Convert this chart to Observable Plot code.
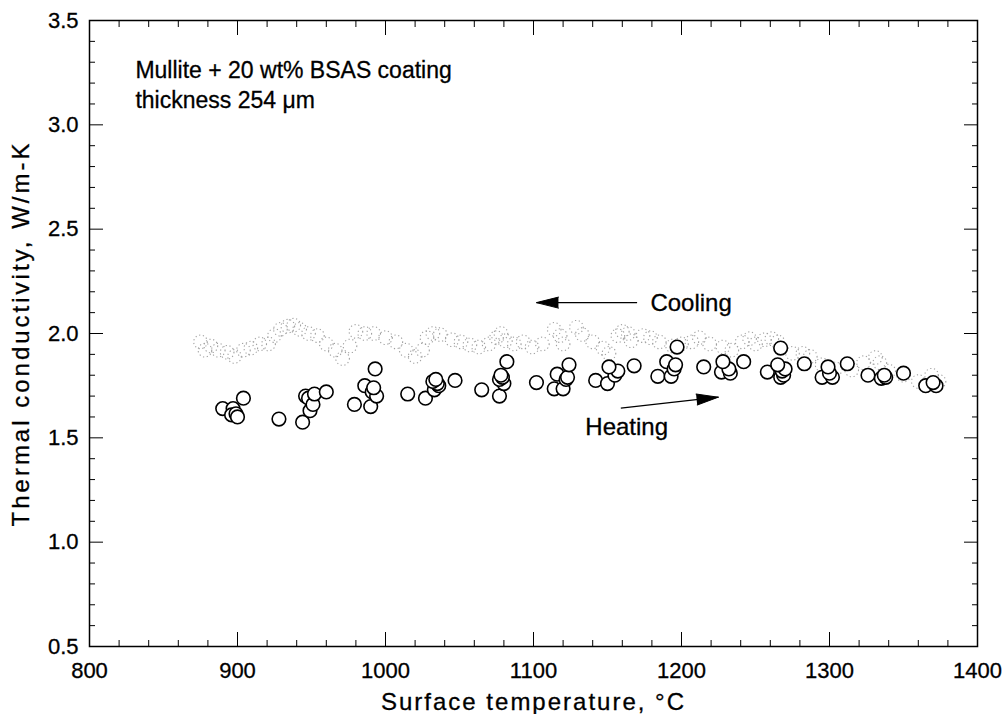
<!DOCTYPE html>
<html><head><meta charset="utf-8">
<script src="https://cdn.jsdelivr.net/npm/d3@7"></script>
<script src="https://cdn.jsdelivr.net/npm/@observablehq/plot@0.6"></script>
<style>
body{margin:0;background:#fff;}
#chart svg{display:block;}
#chart text{stroke:#000;stroke-width:0.3px;}
#chart g[aria-label="x-axis label"] text{letter-spacing:2px;}
#chart g[aria-label="y-axis label"] text{letter-spacing:3px;}
</style>
</head><body><div id="chart"></div>
<script>
// Heating run (open black circles)
const heatingT = [890,897,896,899,900,904,928,944,946,948,949,951,952,960,979,986,990,991,994,992,993,1015,1027,1033,1036,1035,1032,1034,1047,1065,1077,1080,1077,1079,1078,1082,1102,1114,1120,1116,1122,1123,1124,1142,1150,1155,1157,1151,1168,1184,1193,1190,1195,1196,1197,1215,1227,1233,1232,1228,1242,1258,1267,1269,1268,1270,1265,1267,1283,1295,1302,1300,1299,1312,1326,1335,1338,1337,1350,1365,1372,1370];
const heatingK = [1.64,1.64,1.61,1.615,1.60,1.69,1.59,1.575,1.70,1.69,1.63,1.66,1.71,1.72,1.66,1.75,1.65,1.72,1.70,1.74,1.83,1.71,1.69,1.73,1.75,1.76,1.77,1.78,1.775,1.73,1.70,1.76,1.78,1.79,1.80,1.865,1.765,1.735,1.735,1.805,1.78,1.79,1.85,1.775,1.76,1.80,1.82,1.84,1.845,1.795,1.795,1.865,1.83,1.85,1.935,1.84,1.815,1.81,1.83,1.865,1.865,1.815,1.79,1.80,1.82,1.83,1.85,1.93,1.855,1.79,1.79,1.81,1.84,1.855,1.80,1.785,1.79,1.80,1.81,1.75,1.75,1.765];
// Cooling run (faint grey circles)
const coolingT = [875,878,882,887,893,898,904,909,915,921,925,929,934,938,942,948,954,960,966,971,976,980,986,992,1000,1007,1014,1020,1025,1028,1032,1037,1045,1051,1057,1063,1070,1075,1078,1081,1087,1093,1099,1106,1114,1118,1120,1129,1133,1140,1147,1151,1157,1160,1164,1166,1174,1179,1185,1194,1200,1207,1212,1219,1228,1234,1241,1246,1250,1256,1261,1265,1275,1282,1287,1295,1304,1315,1323,1331,1334,1340,1350,1360,1369,1374];
const coolingK = [1.96,1.92,1.94,1.92,1.91,1.89,1.92,1.93,1.95,1.95,1.99,2.02,2.035,2.04,2.02,2.0,1.99,1.95,1.92,1.88,1.94,2.01,2.0,2.0,1.98,1.96,1.92,1.89,1.92,1.98,2.0,1.995,1.97,1.96,1.945,1.935,1.95,1.98,2.0,1.965,1.95,1.96,1.935,1.95,2.02,1.99,1.95,2.03,1.995,1.96,1.93,1.905,1.99,2.01,2.0,1.965,1.99,1.98,1.96,1.94,1.95,1.96,1.98,1.95,1.935,1.92,1.96,1.975,1.95,1.97,1.975,1.96,1.905,1.905,1.89,1.85,1.83,1.825,1.86,1.885,1.86,1.82,1.80,1.77,1.80,1.77];

// Axis ticks
const xMajor = [800,900,1000,1100,1200,1300,1400];
const xMinor = d3.range(800, 1401, 20).filter(v => v % 100 !== 0);
const yMajor = [0.5,1.0,1.5,2.0,2.5,3.0,3.5];
const yMinor = d3.range(5, 36, 1).map(v => v / 10).filter(v => Math.round(v * 10) % 5 !== 0);
const xTitle = "Surface temperature, °C";
const yTitle = "Thermal conductivity, W/m-K";

// Annotations
const noteText = ["Mullite + 20 wt% BSAS coating", "thickness 254 μm"];
const noteT = [831, 831];
const noteK = [3.26, 3.117];
const runLabel = ["Cooling", "Heating"];
const runLabelT = [1179, 1135];
const runLabelK = [2.143, 1.551];
const arrowFromT = [1170, 1159];
const arrowFromK = [2.148, 1.642];
const arrowToT = [1102, 1225];
const arrowToK = [2.148, 1.695];
const arrowAngle = [-90, 84];

const heating = heatingT.map((t, i) => ({t, k: heatingK[i]}));
const cooling = coolingT.map((t, i) => ({t, k: coolingK[i]}));
const notes = noteText.map((s, i) => ({s, t: noteT[i], k: noteK[i]}));
const runs = runLabel.map((s, i) => ({s, t: runLabelT[i], k: runLabelK[i]}));
const arrows = arrowFromT.map((t, i) => ({t1: t, k1: arrowFromK[i], t2: arrowToT[i], k2: arrowToK[i], a: arrowAngle[i]}));

const fmtY = d => d.toFixed(1);
const blank = () => "";

const chart = Plot.plot({
  width: 1006,
  height: 714,
  marginLeft: 89,
  marginRight: 29,
  marginTop: 20,
  marginBottom: 68,
  style: {fontFamily: "'Liberation Sans', Arial, Helvetica, sans-serif", fontSize: "22px", background: "#fff", color: "#000"},
  x: {domain: [800, 1400], label: null},
  y: {domain: [0.5, 3.5], label: null},
  marks: [
    // tick labels and titles
    Plot.axisX(xMajor, {anchor: "bottom", tickSize: 0, tickPadding: 16, tickFormat: d => String(d), label: null}),
    Plot.axisY(yMajor, {anchor: "left", tickSize: 0, tickPadding: 11, tickFormat: fmtY, label: null}),
    Plot.axisX({anchor: "bottom", ticks: [], label: xTitle, labelAnchor: "center", labelOffset: 63, labelArrow: false, fontSize: 24}),
    Plot.axisY({anchor: "left", ticks: [], label: yTitle, labelAnchor: "center", labelOffset: 78, labelArrow: false, fontSize: 24}),
    // inward ticks on all four sides
    Plot.axisX(xMajor, {anchor: "bottom", tickSize: -14, tickFormat: blank, label: null}),
    Plot.axisX(xMinor, {anchor: "bottom", tickSize: -6, tickFormat: blank, label: null}),
    Plot.axisX(xMajor, {anchor: "top", tickSize: -14, tickFormat: blank, label: null}),
    Plot.axisX(xMinor, {anchor: "top", tickSize: -6, tickFormat: blank, label: null}),
    Plot.axisY(yMajor, {anchor: "left", tickSize: -14, tickFormat: blank, label: null}),
    Plot.axisY(yMinor, {anchor: "left", tickSize: -6, tickFormat: blank, label: null}),
    Plot.axisY(yMajor, {anchor: "right", tickSize: -14, tickFormat: blank, label: null}),
    Plot.axisY(yMinor, {anchor: "right", tickSize: -6, tickFormat: blank, label: null}),
    // data
    Plot.dot(cooling, {x: "t", y: "k", r: 6.8, stroke: "#a0a0a0", strokeWidth: 1.1, strokeDasharray: "1.2,2.6", fill: "none"}),
    Plot.dot(heating, {x: "t", y: "k", r: 6.8, stroke: "#000", strokeWidth: 1.6, fill: "#fff"}),
    // annotations
    Plot.text(notes, {x: "t", y: "k", text: "s", textAnchor: "start", fontSize: 23, fill: "#000"}),
    Plot.text(runs, {x: "t", y: "k", text: "s", textAnchor: "start", fontSize: 24, fill: "#000"}),
    Plot.link(arrows, {x1: "t1", y1: "k1", x2: "t2", y2: "k2", stroke: "#000", strokeWidth: 1.2}),
    Plot.vector(arrows, {x: "t2", y: "k2", rotate: "a", length: 22, anchor: "end", shape: "spike", r: 5.5, fill: "#000", stroke: "#000", strokeWidth: 1}),
    Plot.frame({stroke: "#000", strokeWidth: 1.5})
  ]
});
document.getElementById("chart").append(chart);
</script>
</body></html>
